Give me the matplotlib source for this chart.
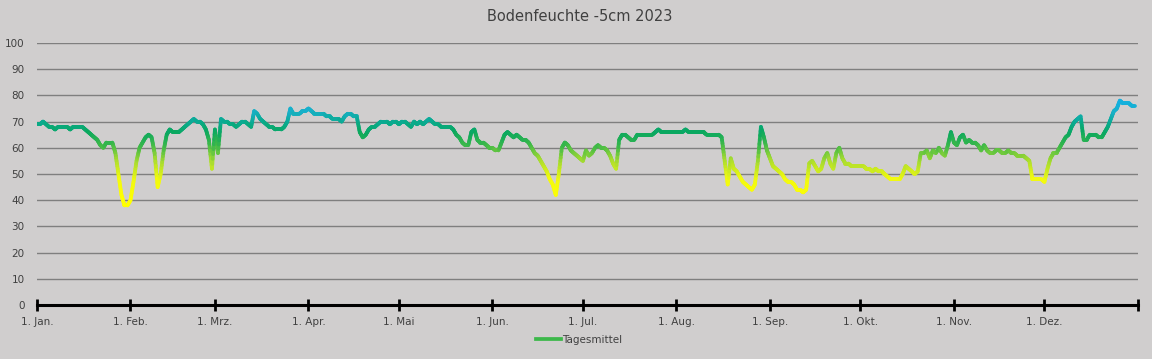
import numpy as np
import matplotlib
matplotlib.use("Agg")
import matplotlib.pyplot as plt
from matplotlib.collections import LineCollection
from matplotlib.colors import LinearSegmentedColormap, Normalize
from matplotlib.lines import Line2D

# Tagesmittel Bodenfeuchte -5cm, 2023
jan = [69, 69, 70, 69, 68, 68, 67, 68, 68, 68, 68, 67, 68, 68, 68, 68,
       67, 66, 65, 64, 63, 61, 60, 62, 62, 62, 58, 50, 42, 38, 38]
feb = [40, 47, 55, 60, 62, 64, 65, 64, 58, 45, 50, 59, 65, 67, 66, 66,
       66, 67, 68, 69, 70, 71, 70, 70, 69, 67, 63, 52]
mar = [67, 58, 71, 70, 70, 69, 69, 68, 69, 70, 70, 69, 68, 74, 73, 71,
       70, 69, 68, 68, 67, 67, 67, 68, 70, 75, 73, 73, 73, 74, 74]
apr = [75, 74, 73, 73, 73, 73, 72, 72, 71, 71, 71, 70, 72, 73, 73, 72,
       72, 66, 64, 65, 67, 68, 68, 69, 70, 70, 70, 69, 70, 70]
mai = [69, 70, 70, 69, 68, 70, 69, 70, 69, 70, 71, 70, 69, 69, 68, 68,
       68, 68, 67, 65, 64, 62, 61, 61, 66, 67, 63, 62, 62, 61, 60]
jun = [60, 59, 59, 62, 65, 66, 65, 64, 65, 64, 63, 63, 62, 60, 58, 57,
       55, 53, 51, 48, 46, 42, 50, 60, 62, 61, 59, 58, 57, 56]
jul = [55, 59, 57, 58, 60, 61, 60, 60, 59, 57, 54, 52, 63, 65, 65, 64,
       63, 63, 65, 65, 65, 65, 65, 65, 66, 67, 66, 66, 66, 66, 66]
aug = [66, 66, 66, 67, 66, 66, 66, 66, 66, 66, 65, 65, 65, 65, 65, 64,
       55, 46, 56, 52, 51, 49, 47, 46, 45, 44, 46, 55, 68, 64, 59]
sep = [56, 53, 52, 51, 50, 48, 47, 47, 46, 44, 44, 43, 44, 54, 55, 53,
       51, 52, 56, 58, 54, 52, 58, 60, 56, 54, 54, 53, 53, 53]
okt = [53, 53, 52, 52, 51, 52, 51, 51, 50, 49, 48, 48, 48, 48, 50, 53,
       52, 51, 50, 51, 58, 58, 59, 56, 59, 58, 60, 58, 57, 61, 66]
nov = [62, 61, 64, 65, 62, 63, 62, 62, 61, 59, 61, 59, 58, 58, 59, 59,
       58, 58, 59, 58, 58, 57, 57, 57, 56, 55, 48, 48, 48, 48]
dez = [47, 52, 56, 58, 58, 60, 62, 64, 65, 68, 70, 71, 72, 63, 63, 65,
       65, 65, 64, 64, 66, 68, 71, 74, 75, 78, 77, 77, 77, 76, 76]

monate = ["1. Jan.", "1. Feb.", "1. Mrz.", "1. Apr.", "1. Mai", "1. Jun.",
          "1. Jul.", "1. Aug.", "1. Sep.", "1. Okt.", "1. Nov.", "1. Dez."]

werte = np.array(jan + feb + mar + apr + mai + jun + jul + aug + sep + okt + nov + dez, dtype=float)
tage = np.arange(len(werte))
monatslaengen = [len(m) for m in (jan, feb, mar, apr, mai, jun, jul, aug, sep, okt, nov, dez)]
monatsanfang = np.concatenate([[0], np.cumsum(monatslaengen)])

# Farbverlauf wie in Excel: gelb (trocken) -> grün -> hellblau (feucht)
cmap = LinearSegmentedColormap.from_list("feuchte", [
    (0.00, "#FFFF00"), (0.20, "#F2FA10"), (0.375, "#A8DC30"), (0.525, "#3CB84A"),
    (0.65, "#0AA860"), (0.75, "#0AAA90"), (0.85, "#18B0C8"), (1.00, "#10B0F0")])
norm = Normalize(40, 80)

hg = "#D0CECE"
fig = plt.figure(figsize=(11.52, 3.59), dpi=100, facecolor=hg)
ax = fig.add_axes([0.0321, 0.1504, 0.9557, 0.7298], facecolor=hg)

# Liniensegmente, dicht unterteilt für weichen Verlauf
n = 8
xs, ys = [], []
for i in range(len(werte) - 1):
    t = np.linspace(0, 1, n + 1)[:-1]
    xs.extend(tage[i] + t)
    ys.extend(werte[i] + (werte[i + 1] - werte[i]) * t)
xs.append(tage[-1])
ys.append(werte[-1])
xs, ys = np.array(xs), np.array(ys)
pts = np.column_stack([xs, ys]).reshape(-1, 1, 2)
segs = np.concatenate([pts[:-1], pts[1:]], axis=1)
lc = LineCollection(segs, cmap=cmap, norm=norm, linewidths=2.7, capstyle="round", joinstyle="round")
lc.set_array((ys[:-1] + ys[1:]) / 2)
ax.add_collection(lc)

ax.set_xlim(0, monatsanfang[-1])
ax.set_ylim(0, 100)
ax.set_yticks(np.arange(0, 101, 10))
ax.yaxis.grid(True, color="#7F7F7F", linewidth=1.0)
ax.set_axisbelow(True)
for s in ("top", "right", "left"):
    ax.spines[s].set_visible(False)
ax.spines["bottom"].set_linewidth(2.2)
ax.spines["bottom"].set_color("black")
ax.spines["bottom"].set_zorder(3)

ax.set_xticks(monatsanfang)
ax.set_xticklabels(monate + [""])
ax.tick_params(axis="x", direction="inout", length=9, width=2, color="black",
               labelsize=7.5, pad=4, labelcolor="#404040")
ax.tick_params(axis="y", length=0, labelsize=7.5, pad=9, labelcolor="#404040")

fig.suptitle("Bodenfeuchte -5cm 2023", x=0.503, y=0.975, fontsize=10.5, color="#404040")

handle = Line2D([], [], color="#3CB84A", linewidth=2.7)
fig.legend([handle], ["Tagesmittel"], loc="center", bbox_to_anchor=(0.503, 0.053),
           frameon=False, fontsize=7.5, handlelength=2.4, handletextpad=0.1,
           labelcolor="#404040")

fig.savefig("out.png", dpi=100, facecolor=hg)
